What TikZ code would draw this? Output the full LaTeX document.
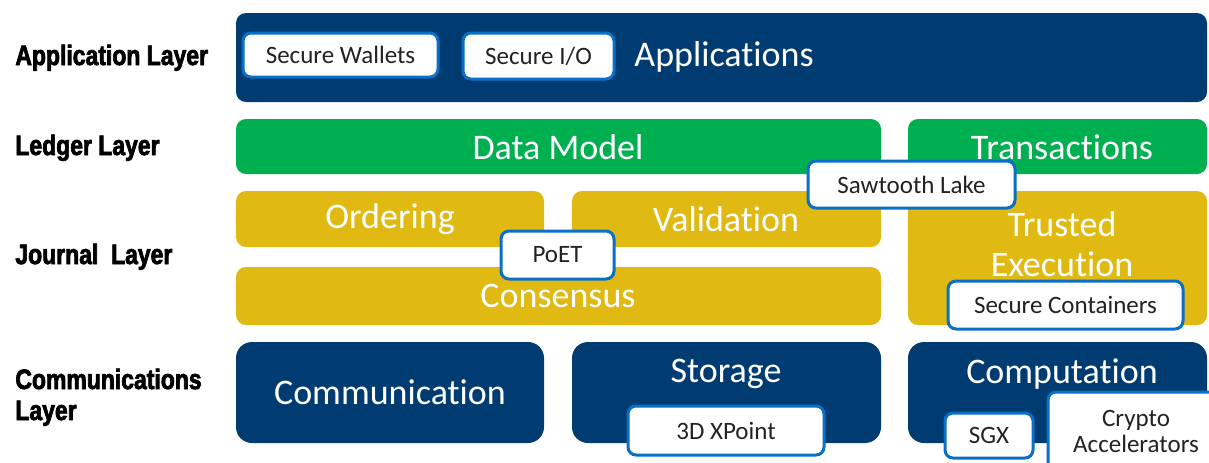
\documentclass[tikz,border=0pt]{standalone}
\usepackage{fontspec}
\setmainfont{Carlito}[Ligatures=NoCommon]
\newfontfamily\layerfont{Liberation Sans}[FakeStretch=0.82, FakeBold=2.5]
\usepackage{tikz}
\usetikzlibrary{positioning}

\definecolor{appblue}{HTML}{003C71}
\definecolor{ledgergreen}{HTML}{00B050}
\definecolor{journalyellow}{HTML}{E0B912}
\definecolor{tagblue}{HTML}{0A6FC7}
\definecolor{tagtext}{HTML}{222222}

\begin{document}
\begin{tikzpicture}[x=0.5pt, y=-0.5pt,
  layer/.style={anchor=base west, inner sep=0pt, font=\layerfont\bfseries\fontsize{14}{16}\selectfont},
  big/.style={white, inner sep=0pt, font=\fontsize{18}{21}\selectfont},
  tag/.style={draw=tagblue, line width=1.5pt, fill=white, rounded corners=4pt,
    text=tagtext, inner sep=0pt, font=\fontsize{12.5}{14}\selectfont}]
  \useasboundingbox (0,0) rectangle (1209,462);
  \clip (0,0) rectangle (1209,462);

  % Noms des couches
  \node[layer] (lapp) at (15,65) {Application Layer};
  \node[layer] (lledger) at (15,155) {Ledger Layer};
  \node[layer] (ljournal) at (15,264) {Journal\ \ Layer};
  \node[layer] (lcomm) at (15,389) {Communications};
  \node[layer] (lcomm2) at (15,420) {Layer};

  % Couche application
  \fill[appblue, rounded corners=5pt] (236,13) rectangle (1207,102);
  \node[big, anchor=west] (apps) at (634,57) {Applications};
  \node[tag, minimum width=97.5pt, minimum height=22pt] (wallets) at (340.5,55) {Secure Wallets};
  \node[tag, minimum width=75.5pt, minimum height=23pt] (secio) at (538.5,56) {Secure I/O};

  % Couche ledger
  \fill[ledgergreen, rounded corners=5pt] (236,119) rectangle (881,174);
  \fill[ledgergreen, rounded corners=5pt] (908,119) rectangle (1207,174);
  \node[big] (datamodel) at (558,147) {Data Model};
  \node[big] (transactions) at (1062,147) {Transactions};

  % Couche journal
  \fill[journalyellow, rounded corners=5pt] (236,191) rectangle (544,247);
  \fill[journalyellow, rounded corners=5pt] (572,191) rectangle (881,247);
  \fill[journalyellow, rounded corners=5pt] (236,267) rectangle (881,325);
  \fill[journalyellow, rounded corners=5pt] (908,191) rectangle (1207,325);
  \node[big] (ordering) at (390,219) {Ordering};
  \node[big] (validation) at (726,219) {Validation};
  \node[big] (consensus) at (558,296) {Consensus};
  \node[big, align=center, font=\fontsize{18}{20}\selectfont] (trusted) at (1062,244) {Trusted\\Execution};

  % Couche communications
  \fill[appblue, rounded corners=8pt] (236,342) rectangle (544,443);
  \fill[appblue, rounded corners=8pt] (572,342) rectangle (881,443);
  \fill[appblue, rounded corners=8pt] (908,342) rectangle (1207,443);
  \node[big] (communication) at (390,392) {Communication};
  \node[big] (storage) at (726,374) {Storage};
  \node[big] (computation) at (1062,374) {Computation};

  % Etiquettes blanches (par-dessus)
  \node[tag, minimum width=103.5pt, minimum height=23.5pt] (sawtooth) at (911.5,184.5) {Sawtooth Lake};
  \node[tag, minimum width=56.5pt, minimum height=24pt] (poet) at (557.5,255) {PoET};
  \node[tag, minimum width=117.5pt, minimum height=24pt] (containers) at (1065.5,305) {Secure Containers};
  \node[tag, minimum width=98pt, minimum height=24.5pt] (xpoint) at (726,430.5) {3D XPoint};
  \node[tag, minimum width=44pt, minimum height=22.5pt] (sgx) at (989,435.5) {SGX};
  \node[tag, minimum width=88pt, minimum height=39pt, align=center,
    font=\fontsize{12.5}{13}\selectfont] (crypto) at (1136,431) {Crypto\\Accelerators};
\end{tikzpicture}
\end{document}
